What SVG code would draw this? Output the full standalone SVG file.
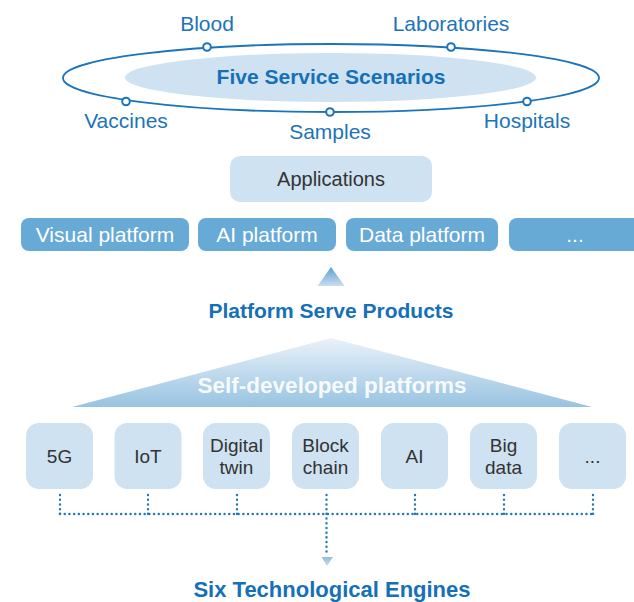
<svg xmlns="http://www.w3.org/2000/svg" width="634" height="602" viewBox="0 0 634 602">
<defs>
<linearGradient id="gSmall" x1="0" y1="0" x2="0" y2="1">
<stop offset="0" stop-color="#5b9fd0"/><stop offset="1" stop-color="#c9def0"/>
</linearGradient>
<linearGradient id="gBig" x1="0" y1="0" x2="0" y2="1">
<stop offset="0" stop-color="#eaf2f9"/><stop offset="1" stop-color="#98c3e1"/>
</linearGradient>
<linearGradient id="gArrow" x1="0" y1="0" x2="0" y2="1">
<stop offset="0" stop-color="#8fbde0"/><stop offset="1" stop-color="#c8def0"/>
</linearGradient>
<style>
.lbl{font-family:"Liberation Sans",Arial,sans-serif;font-size:21px;fill:#1b74bb;text-anchor:middle}
.title{font-family:"Liberation Sans",Arial,sans-serif;font-size:21px;font-weight:bold;fill:#1670b8;text-anchor:middle}
.dark{font-family:"Liberation Sans",Arial,sans-serif;font-size:19px;fill:#333333;text-anchor:middle}
.app{font-size:20px}
.wt{font-family:"Liberation Sans",Arial,sans-serif;font-size:21px;fill:#ffffff;text-anchor:middle}
.light{fill:#cee2f1}
.mid{fill:#67aad6}
.dot{fill:#ffffff;stroke:#1b74bb;stroke-width:2}
.dl{fill:none;stroke:#2378bc;stroke-width:2.4;stroke-linecap:round;stroke-dasharray:0.1 4.6}
</style>
</defs>

<g id="scenarios">
<ellipse cx="331" cy="78" rx="268" ry="34" fill="none" stroke="#1b74bb" stroke-width="1.8"/>
<ellipse class="light" cx="330.5" cy="77.5" rx="205.5" ry="24.5"/>
<text class="title" x="331" y="84">Five Service Scenarios</text>
</g>
<g id="blood"><circle class="dot" cx="207" cy="47" r="3.8"/><text class="lbl" x="207" y="31">Blood</text></g>
<g id="laboratories"><circle class="dot" cx="451" cy="47" r="3.8"/><text class="lbl" x="451" y="31">Laboratories</text></g>
<g id="vaccines"><circle class="dot" cx="126" cy="101.5" r="3.8"/><text class="lbl" x="126" y="128">Vaccines</text></g>
<g id="samples"><circle class="dot" cx="330" cy="112" r="3.8"/><text class="lbl" x="330" y="139">Samples</text></g>
<g id="hospitals"><circle class="dot" cx="527" cy="101.5" r="3.8"/><text class="lbl" x="527" y="128">Hospitals</text></g>

<g id="applications"><rect class="light" x="230" y="156" width="202" height="46" rx="10"/><text class="dark app" x="331" y="186">Applications</text></g>

<g id="visual-platform"><rect class="mid" x="21" y="218" width="168" height="33" rx="8"/><text class="wt" x="105" y="242">Visual platform</text></g>
<g id="ai-platform"><rect class="mid" x="198" y="218" width="138" height="33" rx="8"/><text class="wt" x="267" y="242">AI platform</text></g>
<g id="data-platform"><rect class="mid" x="346" y="218" width="152" height="33" rx="8"/><text class="wt" x="422" y="242">Data platform</text></g>
<g id="more-platform"><rect class="mid" x="509" y="218" width="140" height="33" rx="8"/><text class="wt" x="575" y="242">...</text></g>

<g id="platform-serve-products">
<polygon points="331,267 317.5,286 344.5,286" fill="url(#gSmall)"/>
<text class="title" x="331" y="318">Platform Serve Products</text>
</g>

<g id="self-developed">
<polygon points="331,338 72,407 592,407" fill="url(#gBig)"/>
<text class="title" x="332" y="393" style="font-size:22.5px;fill:#ffffff;fill-opacity:0.92">Self-developed platforms</text>
</g>

<g id="t-5g"><rect class="light" x="26" y="423" width="67" height="66" rx="13"/><text class="dark" x="59.5" y="463">5G</text></g>
<g id="t-iot"><rect class="light" x="114.5" y="423" width="67" height="66" rx="13"/><text class="dark" x="148" y="463">IoT</text></g>
<g id="t-digital"><rect class="light" x="203" y="423" width="67" height="66" rx="13"/><text class="dark" x="236.5" y="452">Digital</text><text class="dark" x="236.5" y="474">twin</text></g>
<g id="t-block"><rect class="light" x="292" y="423" width="67" height="66" rx="13"/><text class="dark" x="325.5" y="452">Block</text><text class="dark" x="325.5" y="474">chain</text></g>
<g id="t-ai"><rect class="light" x="381" y="423" width="67" height="66" rx="13"/><text class="dark" x="414.5" y="463">AI</text></g>
<g id="t-big"><rect class="light" x="470" y="423" width="67" height="66" rx="13"/><text class="dark" x="503.5" y="452">Big</text><text class="dark" x="503.5" y="474">data</text></g>
<g id="t-more"><rect class="light" x="559" y="423" width="67" height="66" rx="13"/><text class="dark" x="592.5" y="463">...</text></g>

<g id="connectors">
<path class="dl" d="M60,495V514M148,495V514M237,495V514M415,495V514M504,495V514M593,495V514"/>
<path class="dl" d="M60,514H593"/>
<path class="dl" d="M326.5,495V553"/>
<polygon points="321.5,557 333,557 327,566" fill="url(#gArrow)"/>
</g>

<g id="six-engines"><text class="title" x="332" y="597" style="font-size:22px">Six Technological Engines</text></g>
</svg>
